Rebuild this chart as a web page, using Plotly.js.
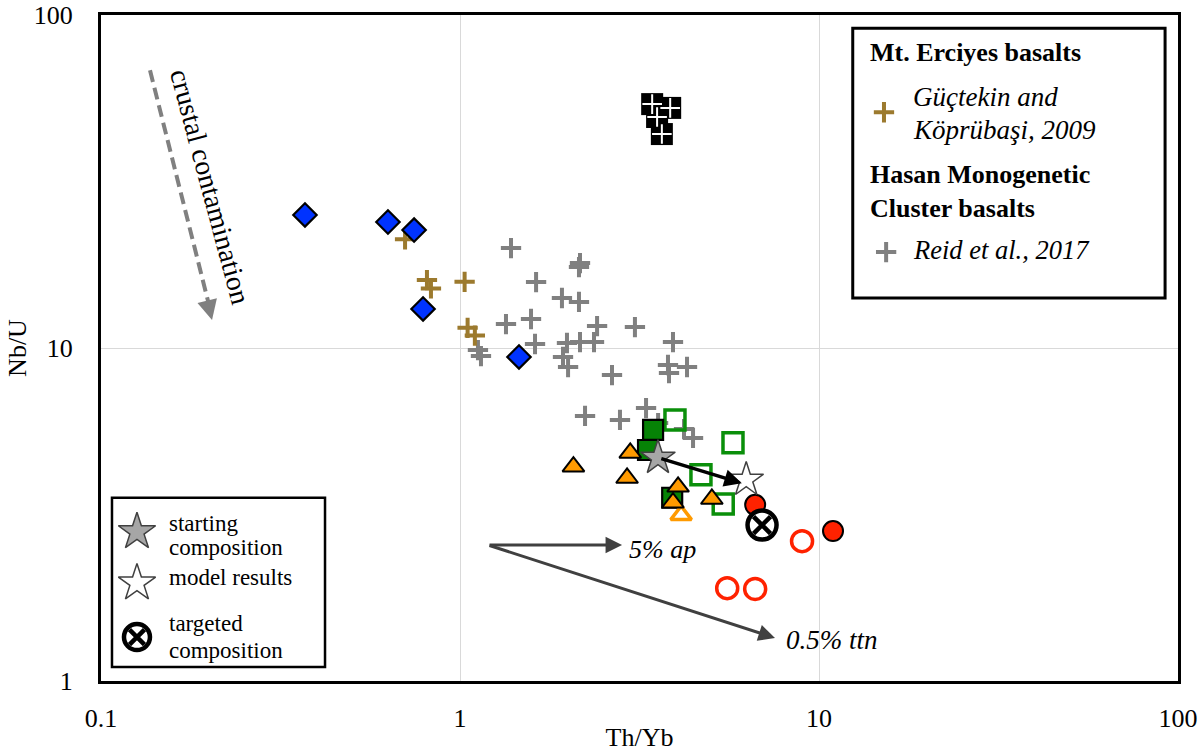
<!DOCTYPE html>
<html>
<head>
<meta charset="utf-8">
<script src="https://cdn.plot.ly/plotly-3.0.1.min.js"></script>
<style>
html,body{margin:0;padding:0;background:#fff;}
#chart{width:1198px;height:752px;}
</style>
</head>
<body>
<div id="chart"></div>
<script>
// ---- data (Th/Yb, Nb/U) ----
var blueX = [0.370, 0.630, 0.745, 0.789, 1.46];
var blueY = [25.1, 23.9, 22.6, 13.1, 9.4];

var erciyesX = [0.703, 0.809, 0.830, 1.03, 1.05, 1.10];
var erciyesY = [21.2, 16.0, 15.1, 15.8, 11.5, 10.9];

var reidX = [1.387, 1.629, 2.145, 2.159, 1.923, 2.145, 1.343, 1.577, 2.409, 3.071,
             1.618, 1.986, 2.159, 2.362, 3.920, 1.122, 1.144, 1.936, 2.000, 2.651,
             3.796, 4.289, 3.821, 2.230, 2.790, 3.298, 3.563, 4.207, 4.458];
var reidY = [19.96, 15.78, 17.5, 17.99, 14.13, 13.75, 11.8, 12.22, 11.64, 11.56,
             10.28, 10.35, 10.42, 10.42, 10.42, 9.86, 9.46, 9.40, 8.77, 8.29,
             8.89, 8.77, 8.41, 6.25, 6.08, 6.60, 5.95, 5.71, 5.37];

var blackSqX = [3.43, 3.85, 3.54, 3.65];
var blackSqY = [54.0, 52.6, 49.4, 43.9];

var greenFillX = [3.45, 3.34, 3.90];
var greenFillY = [5.68, 4.94, 3.55];

var greenOpenX = [3.97, 5.76, 4.69, 5.41];
var greenOpenY = [6.08, 5.19, 4.16, 3.40];

var orangeFillX = [2.07, 2.98, 2.92, 4.05, 3.92, 5.03];
var orangeFillY = [4.40, 4.84, 4.07, 3.83, 3.43, 3.52];

var orangeOpenX = [4.13];
var orangeOpenY = [3.15];

var redFillX = [6.64, 10.94];
var redFillY = [3.38, 2.82];

var redOpenX = [8.97, 5.55, 6.64];
var redOpenY = [2.63, 1.90, 1.89];

var startX = [3.56];
var startY = [4.68];

var modelX = [6.27];
var modelY = [4.02];

var targetX = [6.94];
var targetY = [2.94];

var tickVals = [0.1, 1, 10, 100];
var xTickText = ['0.1', '1', '10', '100'];
var yTickVals = [1, 10, 100];
var yTickText = ['1', '10', '100'];

// ---- styling ----
var FONT = 'Liberation Serif, Times New Roman, serif';

function pts(x, y, marker, extra) {
  var t = {type: 'scatter', mode: 'markers', x: x, y: y, marker: marker,
           showlegend: false, hoverinfo: 'x+y', cliponaxis: false};
  if (extra) for (var k in extra) t[k] = extra[k];
  return t;
}
function openM(symbol, size, color, width) {
  return {symbol: symbol, size: size, color: color, line: {color: color, width: width}};
}
var LEG = {xaxis: 'x2', yaxis: 'y2', hoverinfo: 'skip'};

var GRAY = '#808080', BROWN = '#9c7a2e', GREEN = '#0a8f0a', ORANGE = '#ff9a00', RED = '#ff2200';

var traces = [
  pts(reidX, reidY, openM('cross-thin-open', 14.5, GRAY, 4)),
  pts(erciyesX, erciyesY, openM('cross-thin-open', 14.5, BROWN, 4)),
  pts(blueX, blueY, {symbol: 'diamond', size: 18, color: '#0033ff', line: {color: '#000', width: 2.2}}),
  pts(blackSqX, blackSqY, {symbol: 'square', size: 22, color: '#000', line: {color: '#000', width: 0}}),
  pts(blackSqX, blackSqY, openM('cross-thin-open', 14, '#ffffff', 2)),
  pts(greenOpenX, greenOpenY, openM('square-open', 20, GREEN, 3.5)),
  pts(greenFillX, greenFillY, {symbol: 'square', size: 20, color: '#068206', line: {color: '#000', width: 2.2}}),
  pts(orangeOpenX, orangeOpenY, openM('triangle-up-open', 18, ORANGE, 3.5)),
  pts(orangeFillX, orangeFillY, {symbol: 'triangle-up', size: 19, color: ORANGE, line: {color: '#000', width: 2}}),
  pts(redOpenX, redOpenY, openM('circle-open', 21, RED, 3.5)),
  pts(redFillX, redFillY, {symbol: 'circle', size: 20, color: RED, line: {color: '#000', width: 2}}),
  pts(startX, startY, {symbol: 'star', size: 26, color: '#a6a6a6', line: {color: '#404040', width: 1.5}}),
  pts(modelX, modelY, {symbol: 'star', size: 26, color: '#ffffff', line: {color: '#404040', width: 1.5}}),
  pts(targetX, targetY, {symbol: 'circle', size: 29, color: '#ffffff', line: {color: '#000', width: 4.5}}),
  pts(targetX, targetY, openM('x-thin-open', 17, '#000', 4.5)),
  // legend symbols (overlay axes in fractions of the plot area)
  pts([0.727], [0.854], openM('cross-thin-open', 14.5, BROWN, 4), LEG),
  pts([0.729], [0.644], openM('cross-thin-open', 14.5, GRAY, 4), LEG),
  pts([0.0334], [0.224], {symbol: 'star', size: 28, color: '#a6a6a6', line: {color: '#404040', width: 1.5}}, LEG),
  pts([0.0334], [0.147], {symbol: 'star', size: 28, color: '#ffffff', line: {color: '#404040', width: 1.5}}, LEG),
  pts([0.0334], [0.066], {symbol: 'circle', size: 26, color: '#ffffff', line: {color: '#000', width: 4.5}}, LEG),
  pts([0.0334], [0.066], openM('x-thin-open', 15, '#000', 4.5), LEG)
];

function txt(x, y, text, size, extra) {
  var a = {xref: 'paper', yref: 'paper', x: x, y: y, text: text, showarrow: false,
           xanchor: 'left', yanchor: 'middle', font: {family: FONT, size: size, color: '#000'}};
  if (extra) for (var k in extra) a[k] = extra[k];
  return a;
}

var annotations = [
  // legend 1
  txt(0.712, 0.944, '<b>Mt. Erciyes basalts</b>', 26),
  txt(0.752, 0.877, '<i>Güçtekin and</i>', 27),
  txt(0.752, 0.827, '<i>Köprübaşi, 2009</i>', 27),
  txt(0.712, 0.761, '<b>Hasan Monogenetic</b>', 26),
  txt(0.712, 0.710, '<b>Cluster basalts</b>', 26),
  txt(0.752, 0.647, '<i>Reid et al., 2017</i>', 26.5),
  // legend 2
  txt(0.0615, 0.236, 'starting', 23),
  txt(0.0615, 0.200, 'composition', 23),
  txt(0.0615, 0.155, 'model results', 23),
  txt(0.0615, 0.0856, 'targeted', 23),
  txt(0.0615, 0.0465, 'composition', 23),
  // vector labels
  txt(0.4885, 0.198, '<i>5% ap</i>', 26),
  txt(0.634, 0.0616, '<i>0.5% ttn</i>', 27),
  // crustal contamination
  {xref: 'paper', yref: 'paper', x: 0.1012, y: 0.742, text: 'crustal contamination', showarrow: false,
   textangle: 75, font: {family: FONT, size: 28, color: '#000'}, xanchor: 'center', yanchor: 'middle'},
  // arrows
  {xref: 'paper', yref: 'paper', x: 0.595, y: 0.297, ax: -82, ay: -25, text: '', showarrow: true,
   arrowhead: 2, arrowsize: 1, arrowwidth: 3.5, arrowcolor: '#000', standoff: 0},
  {xref: 'paper', yref: 'paper', x: 0.4838, y: 0.2042, ax: -134, ay: 0, text: '', showarrow: true,
   arrowhead: 2, arrowsize: 1.1, arrowwidth: 3, arrowcolor: '#404040', standoff: 0},
  {xref: 'paper', yref: 'paper', x: 0.6258, y: 0.0646, ax: -287, ay: -93, text: '', showarrow: true,
   arrowhead: 2, arrowsize: 1.1, arrowwidth: 3, arrowcolor: '#404040', standoff: 0},
  {xref: 'paper', yref: 'paper', x: 0.1031, y: 0.542, ax: -4, ay: -16, text: '', showarrow: true,
   arrowhead: 2, arrowsize: 1, arrowwidth: 4, arrowcolor: '#808080', standoff: 0}
];

var shapes = [
  {type: 'rect', xref: 'paper', yref: 'paper', x0: 0.698, x1: 0.988, y0: 0.575, y1: 0.980,
   line: {color: '#000', width: 3}, fillcolor: 'rgba(255,255,255,0)'},
  {type: 'rect', xref: 'paper', yref: 'paper', x0: 0.0102, x1: 0.208, y0: 0.021, y1: 0.275,
   line: {color: '#000', width: 2.5}, fillcolor: 'rgba(255,255,255,0)'},
  {type: 'line', xref: 'paper', yref: 'paper', x0: 0.0455, y0: 0.917, x1: 0.1003, y1: 0.5646,
   line: {color: '#808080', width: 4, dash: '12px,6px'}}
];

var layout = {
  width: 1198, height: 752,
  margin: {l: 101, r: 20, t: 15, b: 71, pad: 0},
  paper_bgcolor: '#fff', plot_bgcolor: '#fff',
  font: {family: FONT, size: 26, color: '#000'},
  showlegend: false,
  xaxis: {
    type: 'log', range: [-1, 2], tickvals: tickVals, ticktext: xTickText,
    showgrid: true, gridcolor: '#d9d9d9', gridwidth: 1, zeroline: false,
    showline: true, mirror: true, linecolor: '#000', linewidth: 3, ticks: '',
    ticklabelstandoff: 12, tickfont: {family: FONT, size: 26, color: '#000'},
    title: {text: 'Th/Yb', font: {family: FONT, size: 26, color: '#000'}, standoff: 6},
    automargin: false
  },
  yaxis: {
    type: 'log', range: [0, 2], tickvals: yTickVals, ticktext: yTickText,
    showgrid: true, gridcolor: '#d9d9d9', gridwidth: 1, zeroline: false,
    showline: true, mirror: true, linecolor: '#000', linewidth: 3, ticks: '',
    ticklabelstandoff: 20, tickfont: {family: FONT, size: 26, color: '#000'},
    title: {text: 'Nb/U', font: {family: FONT, size: 26, color: '#000'}, standoff: 0},
    automargin: false
  },
  xaxis2: {overlaying: 'x', range: [0, 1], visible: false, fixedrange: true},
  yaxis2: {overlaying: 'y', range: [0, 1], visible: false, fixedrange: true},
  annotations: annotations,
  shapes: shapes
};

Plotly.newPlot('chart', traces, layout, {displayModeBar: false, staticPlot: true});
</script>
</body>
</html>
